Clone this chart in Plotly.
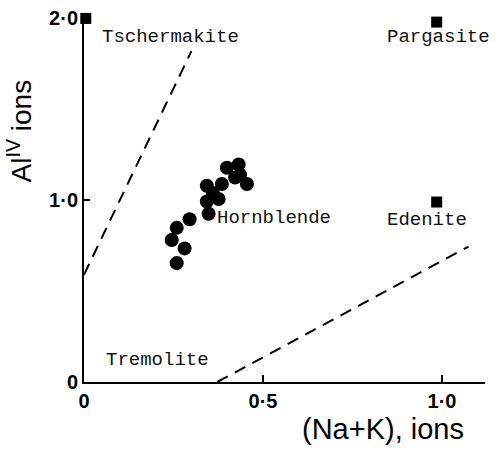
import plotly.graph_objects as go

# Hornblende analyses: (Na+K) ions vs Al(IV) ions
na_k = [0.259, 0.281, 0.245, 0.259, 0.295, 0.348, 0.343, 0.343, 0.376, 0.385,
        0.399, 0.432, 0.422, 0.455, 0.436, 0.360]
al_iv = [0.654, 0.735, 0.781, 0.848, 0.895, 0.926, 0.993, 1.080, 1.007, 1.089,
         1.179, 1.197, 1.125, 1.089, 1.141, 1.040]

# End-member compositions
end_names = ["Tschermakite", "Pargasite", "Edenite"]
end_x = [0.005, 0.985, 0.985]
end_y = [2.0, 1.98, 0.99]

# Dashed field boundaries
upper_x = [0.0, 0.30]
upper_y = [0.59, 1.82]
lower_x = [0.372, 1.074]
lower_y = [0.0, 0.745]

# Field labels: (text, x, y)
label_text = ["Tschermakite", "Pargasite", "Hornblende", "Edenite", "Tremolite"]
label_x = [0.045, 0.84, 0.367, 0.84, 0.056]
label_y = [1.897, 1.897, 0.902, 0.891, 0.12]

x_tickvals = [0, 0.5, 1.0]
x_ticktext = ["0", "0·5", "1·0"]
y_tickvals = [0, 1.0, 2.0]
y_ticktext = ["0", "1·0", "2·0"]

fig = go.Figure()

dash = "12px,8px"
for bx, by in ((upper_x, upper_y), (lower_x, lower_y)):
    fig.add_trace(go.Scatter(x=bx, y=by, mode="lines",
                             line=dict(color="black", width=2, dash=dash),
                             cliponaxis=False, showlegend=False))

fig.add_trace(go.Scatter(x=na_k, y=al_iv, mode="markers",
                         marker=dict(color="black", size=14, symbol="circle"),
                         cliponaxis=False, showlegend=False))

fig.add_trace(go.Scatter(x=end_x, y=end_y, mode="markers", text=end_names,
                         marker=dict(color="black", size=11, symbol="square"),
                         cliponaxis=False, showlegend=False))

label_font = dict(family="Liberation Mono", size=19, color="#111111")
for t, lx, ly in zip(label_text, label_x, label_y):
    fig.add_annotation(x=lx, y=ly, text=t, showarrow=False,
                       xanchor="left", yanchor="middle", font=label_font)

# Axis titles
fig.add_annotation(x=(383 - 84) / 401, y=-(430 - 382) / 374, xref="paper", yref="paper",
                   text="(Na+K), ions", showarrow=False,
                   xanchor="center", yanchor="middle",
                   font=dict(family="Liberation Sans", size=29, color="black"))
fig.add_annotation(x=-(84 - 20) / 401, y=(382 - 128) / 374, xref="paper", yref="paper",
                   text="Al<sup>IV</sup> ions", showarrow=False, textangle=-90,
                   xanchor="center", yanchor="middle",
                   font=dict(family="Liberation Sans", size=28, color="black"))

tick_font = dict(family="Liberation Sans", size=20, color="black", weight="bold")
fig.update_xaxes(range=[0, 1.12], tickvals=x_tickvals, ticktext=x_ticktext,
                 showline=True, linecolor="black", linewidth=2,
                 ticks="inside", ticklen=7, tickwidth=2, tickcolor="black",
                 showgrid=False, zeroline=False, tickfont=tick_font)
fig.update_yaxes(range=[0, 2.03], tickvals=y_tickvals, ticktext=y_ticktext,
                 showline=True, linecolor="black", linewidth=2,
                 ticks="inside", ticklen=6, tickwidth=2, tickcolor="black",
                 showgrid=False, zeroline=False, tickfont=tick_font)

fig.update_layout(width=501, height=452, plot_bgcolor="white", paper_bgcolor="white",
                  margin=dict(l=84, r=16, t=8, b=70), showlegend=False)

fig.write_html("out.html")
